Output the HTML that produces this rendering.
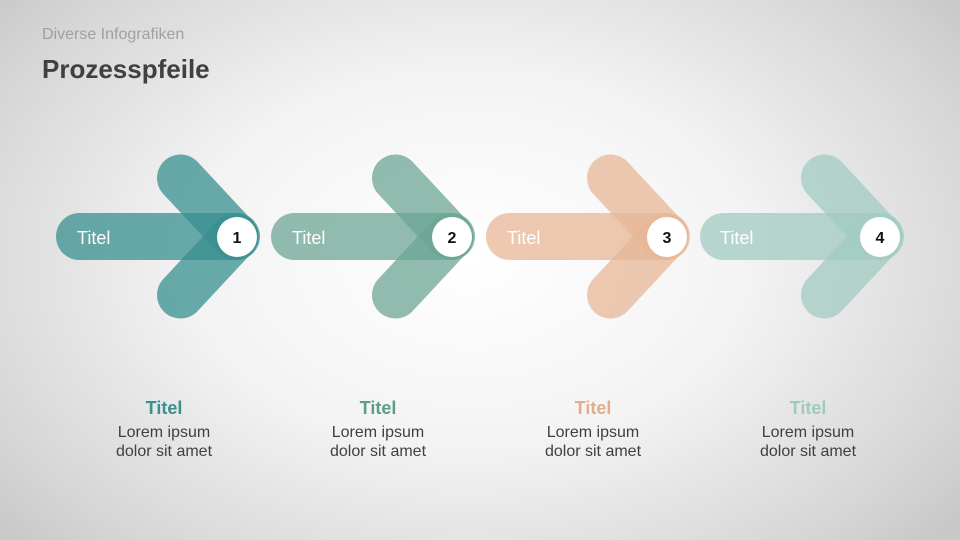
<!DOCTYPE html>
<html><head><meta charset="utf-8"><style>
body{margin:0}
#s{position:relative;width:960px;height:540px;overflow:hidden;font-family:"Liberation Sans",sans-serif;
background:radial-gradient(ellipse 620px 420px at 470px 260px,#ffffff 0%,#f3f3f3 45%,#d6d6d6 85%,#c8c8c8 100%)}
.t{position:absolute;white-space:nowrap}
.c{position:absolute;width:160px;text-align:center}
.c b{display:block;font-size:18px;line-height:22px;margin-bottom:4px}
.c span{display:block;font-size:16px;line-height:19px;color:#404040}
</style></head><body><div id="s">
<div class="t" style="left:42px;top:26px;font-size:16px;color:#a0a0a0">Diverse Infografiken</div>
<div class="t" style="left:42px;top:54px;font-size:26px;font-weight:bold;color:#404040">Prozesspfeile</div>
<svg width="960" height="540" style="position:absolute;left:0;top:0" font-family="Liberation Sans, sans-serif">
<defs>
<g id="a">
<line x1="79.5" y1="236.5" x2="236.5" y2="236.5" stroke-width="47" stroke-linecap="round"/>
<line x1="180.5" y1="178" x2="235" y2="236.5" stroke-width="47" stroke-linecap="round"/>
<line x1="180.5" y1="295" x2="235" y2="236.5" stroke-width="47" stroke-linecap="round"/>
</g>
</defs>
<g stroke="#388f90" stroke-opacity="0.75"><use href="#a"/></g>
<g stroke="#6ca594" stroke-opacity="0.75" transform="translate(215,0)"><use href="#a"/></g>
<g stroke="#e7b797" stroke-opacity="0.75" transform="translate(430,0)"><use href="#a"/></g>
<g stroke="#a1cbc1" stroke-opacity="0.75" transform="translate(644,0)"><use href="#a"/></g>
<g fill="#fff" font-size="18" >
<text x="77" y="244">Titel</text><text x="292" y="244">Titel</text><text x="507" y="244">Titel</text><text x="720" y="244">Titel</text>
</g>
<g fill="#fff"><circle cx="237" cy="237" r="20"/><circle cx="452" cy="237" r="20"/><circle cx="667" cy="237" r="20"/><circle cx="880" cy="237" r="20"/></g>
<g fill="#111" font-size="16" font-weight="bold" text-anchor="middle">
<text x="237" y="243">1</text><text x="452" y="243">2</text><text x="667" y="243">3</text><text x="880" y="243">4</text>
</g>
</svg>
<div class="c" style="left:84px;top:397px"><b style="color:#3a8f90">Titel</b><span>Lorem ipsum</span><span>dolor sit amet</span></div>
<div class="c" style="left:298px;top:397px"><b style="color:#5e9d8d">Titel</b><span>Lorem ipsum</span><span>dolor sit amet</span></div>
<div class="c" style="left:513px;top:397px"><b style="color:#e3ad8a">Titel</b><span>Lorem ipsum</span><span>dolor sit amet</span></div>
<div class="c" style="left:728px;top:397px"><b style="color:#9fcac0">Titel</b><span>Lorem ipsum</span><span>dolor sit amet</span></div>
</div></body></html>
